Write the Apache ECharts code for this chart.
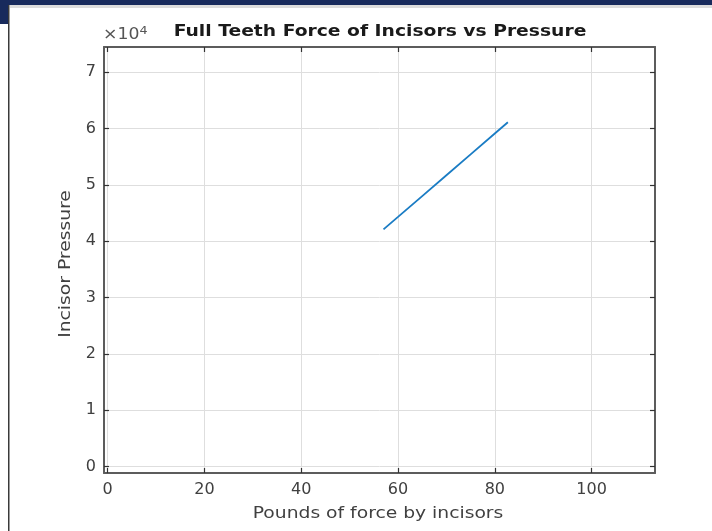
<!DOCTYPE html>
<html>
<head>
<meta charset="utf-8">
<script src="https://cdn.jsdelivr.net/npm/echarts@6/dist/echarts.min.js"></script>
<style>html,body{margin:0;padding:0;background:#fff}#c{width:712px;height:531px}</style>
</head>
<body>
<div id="c"></div>
<script>
var forceLbs = [57, 60, 65, 70, 75, 80, 82.7];
var pressure = [42100, 44300, 48000, 51700, 55400, 59100, 61100];
var xTicks = [0, 20, 40, 60, 80, 100];
var yTicks = [0, 10000, 20000, 30000, 40000, 50000, 60000, 70000];
var titleText = 'Full Teeth Force of Incisors vs Pressure';
var xName = 'Pounds of force by incisors';
var yName = 'Incisor Pressure';

var X_MIN = -0.75, X_MAX = 113.1, Y_MIN = -1120, Y_MAX = 74440;
var font = 'DejaVu Sans';
var frameColor = '#5c5c5c';

function axisBase(pos, isX, showLabel) {
  var ticks = isX ? xTicks : yTicks;
  return {
    type: 'value', position: pos,
    min: isX ? X_MIN : Y_MIN, max: isX ? X_MAX : Y_MAX,
    axisLine: {show: true, onZero: false, lineStyle: {color: frameColor, width: 2}},
    axisTick: {show: true, inside: true, length: 5, customValues: ticks, lineStyle: {color: '#333', width: 1.2}},
    axisLabel: {show: showLabel, customValues: ticks, color: '#404040', fontFamily: font, fontSize: 16, margin: isX ? 9 : 8,
      formatter: function (v) { return isX ? String(v) : String(Math.round(v / 10000)); }},
    splitLine: {show: showLabel, customValues: ticks, lineStyle: {color: '#dedede', width: 1}}
  };
}

var chart = echarts.init(document.getElementById('c'), null, {renderer: 'canvas'});
chart.setOption({
  animation: false,
  backgroundColor: '#fff',
  graphic: [
    {type: 'rect', shape: {x: 0, y: 0, width: 712, height: 5}, style: {fill: '#182a5c'}, z: 100},
    {type: 'rect', shape: {x: 0, y: 0, width: 8, height: 24}, style: {fill: '#182a5c'}, z: 100},
    {type: 'rect', shape: {x: 10, y: 5, width: 702, height: 3}, style: {fill: '#dcdcdc'}, z: 100},
    {type: 'rect', shape: {x: 8, y: 5, width: 1.5, height: 526}, style: {fill: '#3a3a3a'}, z: 100},
    {type: 'text', x: 380, y: 32, scaleX: 1.17, z: 100, style: {
      text: titleText, font: 'bold 16px "DejaVu Sans"', fill: '#1a1a1a', align: 'center', verticalAlign: 'middle'}},
    {type: 'text', x: 378, y: 514, scaleX: 1.17, z: 100, style: {
      text: xName, font: '16px "DejaVu Sans"', fill: '#404040', align: 'center', verticalAlign: 'middle'}},
    {type: 'text', x: 66, y: 264, scaleX: 1.17, rotation: Math.PI / 2, z: 100, style: {
      text: yName, font: '16px "DejaVu Sans"', fill: '#404040', align: 'center', verticalAlign: 'middle'}},
    {type: 'text', x: 103, y: 26, scaleX: 1.15, z: 100, style: {
      text: '{a|×10}{b|4}', rich: {
        a: {fontFamily: font, fontSize: 15, fill: '#555', verticalAlign: 'bottom'},
        b: {fontFamily: font, fontSize: 11, fill: '#555', verticalAlign: 'top', padding: [0, 0, 6, 0]}
      }}}
  ],
  grid: {left: 104, right: 57, top: 47, bottom: 58, containLabel: false},
  xAxis: [axisBase('bottom', true, true), axisBase('top', true, false)],
  yAxis: [axisBase('left', false, true), axisBase('right', false, false)],
  series: [{
    type: 'line', xAxisIndex: 0, yAxisIndex: 0,
    data: forceLbs.map(function (x, i) { return [x, pressure[i]]; }),
    showSymbol: false, symbol: 'none',
    lineStyle: {color: '#1a7cc4', width: 1.8}
  }]
});
</script>
</body>
</html>
